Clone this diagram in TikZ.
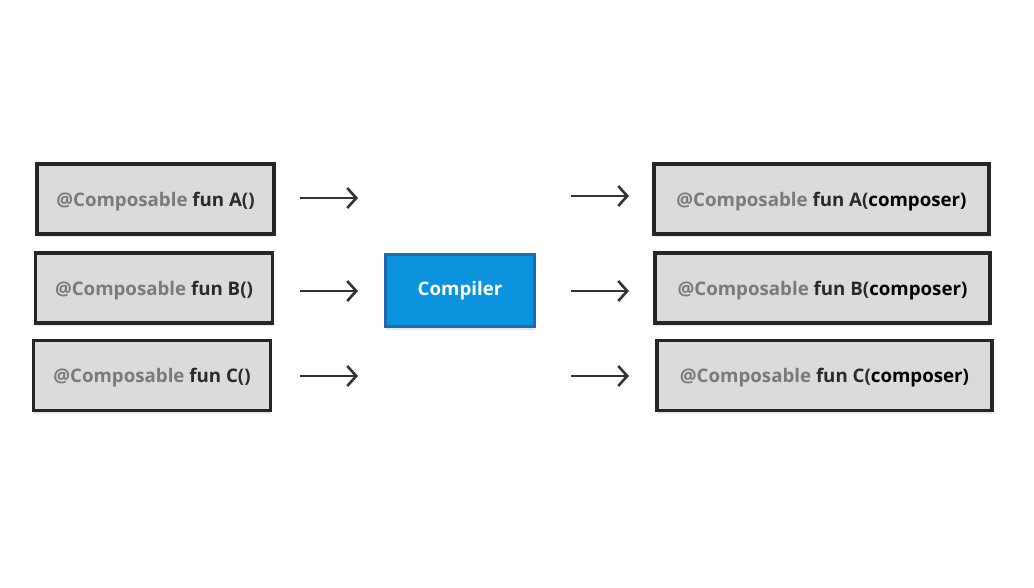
\documentclass[tikz,border=0pt]{standalone}
\usepackage{fontspec}
\setmainfont{Open Sans}
\usetikzlibrary{arrows.meta,shadows}
\definecolor{BoxGray}{HTML}{DCDADC}
\definecolor{Annot}{HTML}{7A7A7A}
\definecolor{FunInk}{HTML}{2A2A2A}
\definecolor{CompBlue}{HTML}{0C93DE}
\definecolor{CompEdge}{HTML}{1E6AAE}

\tikzset{
  fnbox/.style={draw=black!85, line width=3.8pt, fill=BoxGray, minimum height=70pt,
    font=\fontsize{18.7}{22}\selectfont\bfseries, inner sep=0pt, text depth=0pt,
    drop shadow={opacity=0.18, shadow xshift=0pt, shadow yshift=-3pt}},
  flow/.style={-{Straight Barb[length=9pt,width=20pt]}, line width=2.6pt, black!80}
}
\newcommand{\annot}{{\color{Annot}@Composable} \color{FunInk}fun }

\begin{document}
\begin{tikzpicture}[x=1pt, y=-1pt, every node/.style={font=\small}]
\useasboundingbox (0,0) rectangle (1034,587);
% source functions
\node[fnbox, minimum width=237pt] (srcA) at (155.5,199) {\annot A()};
\node[fnbox, minimum width=237pt] (srcB) at (154,288) {\annot B()};
\node[fnbox, minimum width=237pt] (srcC) at (152,375.5) {\annot C()};
% compiler
\node[draw=CompEdge, line width=2.5pt, fill=CompBlue, text=white, minimum width=149pt, minimum height=72pt,
  font=\fontsize{18.7}{22}\selectfont\bfseries,
  drop shadow={opacity=0.18, shadow xshift=0pt, shadow yshift=-3pt}] (comp) at (460,290.5) {Compiler};
% transformed functions
\node[fnbox, minimum width=335pt] (outA) at (821.5,199) {\annot A(\color{black}composer)};
\node[fnbox, minimum width=335pt] (outB) at (822.5,288) {\annot B(\color{black}composer)};
\node[fnbox, minimum width=335pt] (outC) at (824.5,375.5) {\annot C(\color{black}composer)};
% arrow ends
\coordinate (inA) at (358,198);
\coordinate (inB) at (358,291);
\coordinate (inC) at (358,376);
\coordinate (resA) at (571,196);
\coordinate (resB) at (571,291);
\coordinate (resC) at (571,376);
\draw[flow] (inA -| 300,0) -- (inA);
\draw[flow] (inB -| 300,0) -- (inB);
\draw[flow] (inC -| 300,0) -- (inC);
\draw[flow] (resA) -- (resA -| 629,0);
\draw[flow] (resB) -- (resB -| 629,0);
\draw[flow] (resC) -- (resC -| 629,0);
\end{tikzpicture}
\end{document}
